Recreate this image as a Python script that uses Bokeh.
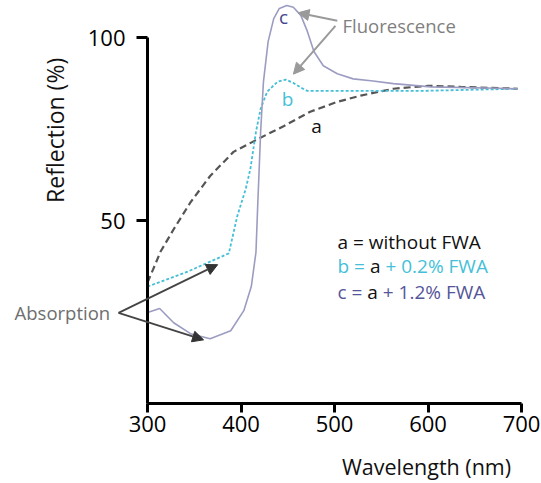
import math
from bokeh.plotting import figure
from bokeh.models import Range1d, FixedTicker, Label, Arrow, NormalHead
from bokeh.embed import file_html
from bokeh.resources import INLINE

# ---- data ----
wl_a = [300, 306, 314, 328, 346, 367, 392, 418, 446, 474, 503, 528, 563, 600, 635, 696]
refl_a = [33.0, 36.6, 41.5, 47.6, 55.0, 62.2, 68.8, 72.3, 75.9, 79.8, 82.5, 84.2, 86.1, 86.9, 86.6, 86.1]

wl_b = [300, 343, 387, 396, 405, 410, 416, 421, 428, 439, 448, 456, 464, 471, 496, 592, 696]
refl_b = [31.9, 36.0, 41.0, 51.2, 58.6, 64.1, 74.3, 80.6, 85.3, 88.0, 88.6, 87.7, 86.4, 85.5, 85.5, 85.5, 86.1]

wl_c = [300, 313, 328, 346, 367, 389, 403, 411, 416, 418, 419, 421, 424, 429, 435, 441,
        449, 456, 464, 471, 478, 488, 503, 520, 539, 563, 603, 696]
refl_c = [24.8, 25.9, 22.0, 19.0, 17.6, 19.8, 25.3, 31.9, 41.3, 55.0, 61.3, 74.3, 88.0, 99.0, 105.3, 108.1,
          108.9, 108.4, 106.2, 101.8, 96.3, 92.4, 90.2, 88.8, 88.3, 87.5, 86.6, 86.1]

x_ticks = [300, 400, 500, 600, 700]
y_ticks = [50, 100]

x_title = "Wavelength (nm)"
y_title = "Reflection (%)"

# annotation arrows (data coordinates): (x_start, y_start, x_end, y_end)
fluor_arrows = [(503, 104.7, 461, 106.9), (501, 103.3, 456, 90.1)]
absorb_arrows = [(269, 24.7, 375, 37.9), (269, 24.7, 360, 17.3)]

FONT = "Open Sans"
FS_LEG = 19  # px
COL_A = "#555555"
COL_B = "#45bfd8"
COL_C_LINE = "#9c9cc2"
COL_C_TEXT = "#45458f"
COL_C_LEG = "#55559a"
BLACK = "#111111"

# canvas-wide frame; axes are pinned at fixed data locations
p = figure(width=541, height=483, output_backend="svg", toolbar_location=None,
           x_range=Range1d(142.78, 721.39), y_range=Range1d(-22.05, 110.27),
           min_border_left=0, min_border_right=0, min_border_top=0, min_border_bottom=0)
p.title.visible = False
p.background_fill_color = "white"
p.border_fill_color = "white"
p.outline_line_color = None
p.xgrid.visible = False
p.ygrid.visible = False

p.line(wl_a, refl_a, line_color=COL_A, line_width=2.2, line_dash="7 4")
p.line(wl_b, refl_b, line_color=COL_B, line_width=1.8, line_dash="3 2")
p.line(wl_c, refl_c, line_color=COL_C_LINE, line_width=1.6)

p.xaxis.fixed_location = 0
p.yaxis.fixed_location = 300
for ax, ticks, bounds in ((p.xaxis, x_ticks, (300, 700)), (p.yaxis, y_ticks, (0, 100))):
    ax.ticker = FixedTicker(ticks=ticks)
    ax.bounds = bounds
    ax.axis_line_width = 3
    ax.axis_line_color = "black"
    ax.major_tick_line_width = 3
    ax.major_tick_line_color = "black"
    ax.major_tick_in = 0
    ax.minor_tick_line_color = None
    ax.major_label_text_font = FONT
    ax.major_label_text_font_size = "22px"
    ax.major_label_text_color = "black"
p.xaxis.major_tick_out = 9
p.yaxis.major_tick_out = 11
p.xaxis.major_label_standoff = 4
p.yaxis.major_label_standoff = 11

# axis titles
p.add_layout(Label(x=598.4, y=-17.3, text=x_title, text_font=FONT, text_font_size="21.5px",
                   text_color=BLACK, text_align="center", text_baseline="middle"))
p.add_layout(Label(x=201.6, y=74.7, text=y_title, text_font=FONT, text_font_size="23px",
                   text_color=BLACK, text_align="center", text_baseline="middle",
                   angle=math.pi / 2))

# curve letters
for txt, xx, yy, col in (("a", 480.7, 75.8, BLACK), ("b", 449.7, 83.2, COL_B), ("c", 445.5, 105.8, COL_C_TEXT)):
    p.add_layout(Label(x=xx, y=yy, text=txt, text_font=FONT, text_font_size=f"{FS_LEG}px",
                       text_color=col, text_align="center", text_baseline="middle"))

# legend text, coloured segments (offsets from Open Sans advance widths)
LX = 503.2
EM = FS_LEG
W_SPACE = 0.26 * EM
W_EQ = 0.572 * EM
W_A = 0.556 * EM

def seg(t, col, yy, off):
    p.add_layout(Label(x=LX, y=yy, x_offset=off, text=t, text_font=FONT, text_font_size=f"{FS_LEG}px",
                       text_color=col, text_align="left", text_baseline="middle"))

seg("a = without FWA", BLACK, 44.2, 0)
for letter, lw, col, pct, yy in (("b", 0.613, COL_B, "0.2%", 37.4), ("c", 0.476, COL_C_LEG, "1.2%", 30.5)):
    seg(f"{letter} =", col, yy, 0)
    o = lw * EM + W_SPACE + W_EQ + W_SPACE
    seg("a", BLACK, yy, o)
    o += W_A + W_SPACE
    seg(f"+ {pct} FWA", col, yy, o)

# annotations
p.add_layout(Label(x=508.6, y=103.4, text="Fluorescence", text_font=FONT, text_font_size="18.5px",
                   text_color="#7f7f7f", text_align="left", text_baseline="middle"))
p.add_layout(Label(x=157.8, y=24.8, text="Absorption", text_font=FONT, text_font_size="18.5px",
                   text_color="#6e6e6e", text_align="left", text_baseline="middle"))

for xs, ys, xe, ye in fluor_arrows:
    p.add_layout(Arrow(x_start=xs, y_start=ys, x_end=xe, y_end=ye, line_color="#9a9a9a", line_width=2,
                       end=NormalHead(size=11, fill_color="#9a9a9a", line_color="#9a9a9a")))
for xs, ys, xe, ye in absorb_arrows:
    p.add_layout(Arrow(x_start=xs, y_start=ys, x_end=xe, y_end=ye, line_color="#444444", line_width=1.8,
                       end=NormalHead(size=11, fill_color="#333333", line_color="#333333")))

open("out.html", "w").write(file_html(p, INLINE))
